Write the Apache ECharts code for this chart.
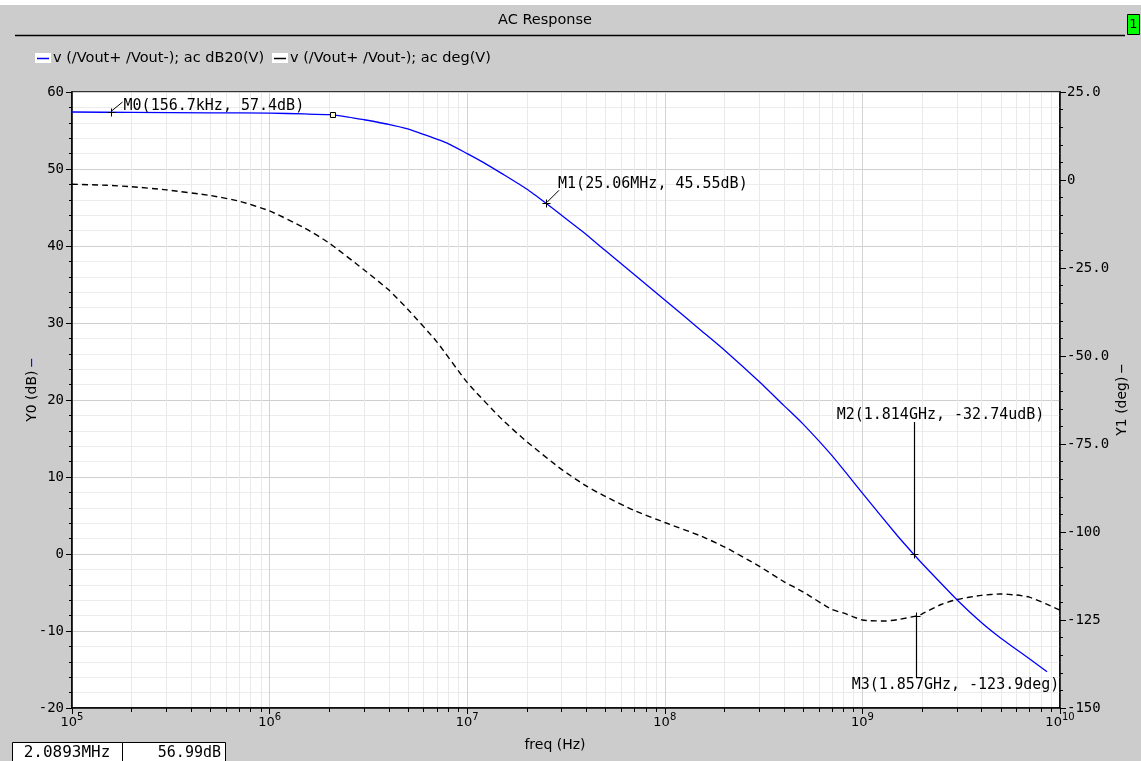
<!DOCTYPE html>
<html>
<head>
<meta charset="utf-8">
<title>AC Response</title>
<script src="https://cdn.jsdelivr.net/npm/echarts@6.0.0/dist/echarts.min.js"></script>
<style>
html,body{margin:0;padding:0;background:#cccccc;}
#chart{width:1141px;height:761px;}
</style>
</head>
<body>
<div id="chart"></div>
<script>
// ---------------- data ----------------
const freqMag = [1e5, 2e5, 5e5, 1e6, 1.5e6, 2e6, 2.5e6, 3e6, 4e6, 5e6, 6e6, 8e6, 1e7, 1.2e7, 1.5e7, 2e7, 2.506e7, 3e7, 4e7, 5e7, 7e7,
                 1e8, 1.5e8, 2e8, 3e8, 4e8, 5e8, 7e8, 1e9, 1.5e9, 1.814e9, 2e9, 3e9, 4e9, 5e9, 7e9, 8.6e9];
const magDB   = [57.4, 57.35, 57.3, 57.25, 57.15, 57.05, 56.75, 56.4, 55.8, 55.2, 54.5, 53.3, 52.0, 50.9, 49.4, 47.4, 45.55, 44.0, 41.5, 39.4, 36.3,
                 33.0, 29.2, 26.5, 22.4, 19.3, 16.9, 12.8, 7.9, 2.4, 0.0, -1.2, -5.9, -8.9, -10.9, -13.6, -15.3];

const freqPhase = [1e5, 1.5e5, 2e5, 3e5, 5e5, 7e5, 1e6, 1.5e6, 2e6, 3e6, 4e6, 5e6, 7e6, 1e7, 1.5e7, 2e7, 3e7, 4e7, 5e7, 7e7,
                   1e8, 1.5e8, 2e8, 3e8, 4e8, 5e8, 7e8, 8e8, 9e8, 1e9, 1.1e9, 1.3e9, 1.5e9, 1.857e9, 2e9, 2.5e9, 3e9, 4e9, 5e9, 6e9, 7e9, 8.5e9, 1e10];
const phaseDeg  = [-1.2, -1.5, -1.9, -2.8, -4.4, -6.0, -8.8, -13.6, -17.9, -25.5, -31.2, -36.7, -45.9, -57.5, -68.0, -74.3, -82.2, -86.9, -89.9, -93.9,
                   -97.3, -101.0, -104.2, -109.7, -114.1, -117.0, -122.0, -123.0, -124.1, -125.0, -125.2, -125.3, -124.9, -123.9, -123.3, -120.6, -119.2, -118.0, -117.6, -117.9, -118.5, -120.4, -122.2];

const seriesNames = ['v (/Vout+ /Vout-); ac dB20(V)', 'v (/Vout+ /Vout-); ac deg(V)'];

const markerFreq  = [156.7e3, 25.06e6, 1.814e9, 1.857e9];
const markerValue = [57.4, 45.55, 0.0, -123.9];
const markerAxis  = [0, 0, 0, 1];
const markerText  = ['M0(156.7kHz, 57.4dB)', 'M1(25.06MHz, 45.55dB)', 'M2(1.814GHz, -32.74udB)', 'M3(1.857GHz, -123.9deg)'];

const cursorFreq = 2.0893e6;
const cursorValue = 56.99;
const cursorText = ['2.0893MHz', '56.99dB'];

const titleText = 'AC Response';
const xName = 'freq (Hz)';
const y0Name = 'Y0 (dB)';
const y1Name = 'Y1 (deg)';
// -----------------------------------------------------------------

const SANS = 'DejaVu Sans';
const MONO = 'DejaVu Sans Mono';

const chart = echarts.init(document.getElementById('chart'), null, {renderer: 'canvas'});

const option = {
  backgroundColor: '#cccccc',
  animation: false,
  grid: {
    left: 72, right: 81, top: 92, bottom: 53,
    show: true, backgroundColor: '#ffffff', borderColor: '#000000', borderWidth: 1.5
  },
  xAxis: {
    type: 'log', logBase: 10, min: 1e5, max: 1e10, splitNumber: 5,
    name: xName, nameLocation: 'middle', nameGap: 30, nameMoveOverlap: false,
    nameTextStyle: {fontFamily: SANS, fontSize: 14, color: '#000', padding: [0, 22, 0, 0]},
    axisLine: {show: true, onZero: false, lineStyle: {color: '#000', width: 1.5}},
    axisTick: {show: true, inside: false, length: 6, lineStyle: {color: '#000', width: 1}},
    minorTick: {show: false},
    splitLine: {show: true, lineStyle: {color: '#d3d3d3', width: 1}},
    axisLabel: {
      margin: 4, color: '#000',
      formatter: v => '{b|10}{s|' + Math.round(Math.log10(v)) + '}',
      rich: {
        b: {fontFamily: SANS, fontSize: 13, color: '#000'},
        s: {fontFamily: SANS, fontSize: 10, color: '#000', padding: [0, 0, 12, 0]}
      }
    }
  },
  yAxis: [
    {
      type: 'value', position: 'left', min: -20, max: 60, interval: 10,
      name: '{t|' + y0Name + '} {bar|—}', nameLocation: 'middle', nameGap: 33, nameRotate: 90, nameMoveOverlap: false,
      nameTextStyle: {
        padding: [0, 0, 0, 20],
        rich: {
          t: {fontFamily: SANS, fontSize: 14, color: '#000'},
          bar: {fontFamily: SANS, fontSize: 9, fontWeight: 'bold', color: '#0000ff'}
        }
      },
      axisLine: {show: true, onZero: false, lineStyle: {color: '#000', width: 1.5}},
      axisTick: {show: true, inside: false, length: 6, lineStyle: {color: '#000'}},
      minorTick: {show: true, splitNumber: 5, length: 3, lineStyle: {color: '#000'}},
      splitLine: {show: true, lineStyle: {color: '#cfcfcf', width: 1}},
      minorSplitLine: {show: true, lineStyle: {color: '#ececec', width: 1}},
      axisLabel: {margin: 8, fontFamily: MONO, fontSize: 14, color: '#000'}
    },
    {
      type: 'value', position: 'right', min: -150, max: 25, interval: 25,
      name: '{t|' + y1Name + '} {bar|—}', nameLocation: 'middle', nameGap: 55, nameRotate: 90, nameMoveOverlap: false,
      nameTextStyle: {
        rich: {
          t: {fontFamily: SANS, fontSize: 14, color: '#000'},
          bar: {fontFamily: SANS, fontSize: 9, fontWeight: 'bold', color: '#000'}
        }
      },
      axisLine: {show: true, onZero: false, lineStyle: {color: '#000', width: 1.5}},
      axisTick: {show: true, inside: false, length: 6, lineStyle: {color: '#000'}},
      minorTick: {show: true, splitNumber: 5, length: 3, lineStyle: {color: '#000'}},
      splitLine: {show: false},
      minorSplitLine: {show: false},
      axisLabel: {
        margin: 7, fontFamily: MONO, fontSize: 14, color: '#000',
        formatter: v => v === 0 ? '0' : (Math.abs(v) >= 100 ? String(v) : v.toFixed(1))
      }
    }
  ],
  series: [
    {
      name: seriesNames[0], type: 'line', xAxisIndex: 0, yAxisIndex: 0,
      data: freqMag.map((f, i) => [f, magDB[i]]),
      showSymbol: false, smooth: 0.2, z: 3,
      lineStyle: {color: '#0000ff', width: 1.3}, itemStyle: {color: '#0000ff'}
    },
    {
      name: seriesNames[1], type: 'line', xAxisIndex: 0, yAxisIndex: 1,
      data: freqPhase.map((f, i) => [f, phaseDeg[i]]),
      showSymbol: false, smooth: 0.2, z: 3,
      lineStyle: {color: '#000000', width: 1.4, type: [6, 4]}, itemStyle: {color: '#000'}
    }
  ]
};
chart.setOption(option);

function txt(x, y, text, font, align, valign, extra) {
  return Object.assign({
    type: 'text', silent: true, z: 20,
    style: {x: x, y: y, text: text, font: font, fill: '#000',
            align: align, verticalAlign: valign, textAlign: align, textVerticalAlign: valign}
  }, extra || {});
}
function seg(x1, y1, x2, y2, stroke, w, z) {
  return {type: 'line', silent: true, z: z == null ? 20 : z,
          shape: {x1: x1, y1: y1, x2: x2, y2: y2}, style: {stroke: stroke, lineWidth: w == null ? 1 : w}};
}

function buildOverlay() {
  const P = (f, v, yi) => chart.convertToPixel({xAxisIndex: 0, yAxisIndex: yi}, [f, v]);
  const els = [];
  const yTop = P(1e5, 60, 0)[1];
  const yBot = P(1e5, -20, 0)[1];

  // minor vertical grid lines + minor x ticks at 2..9 of each decade
  for (let d = 5; d < 10; d++) {
    for (let m = 2; m <= 9; m++) {
      const x = Math.round(P(m * Math.pow(10, d), 0, 0)[0]) + 0.5;
      els.push(seg(x, yTop + 1, x, yBot - 1, '#e9e9e9', 1, 1));
      els.push(seg(x, yBot, x, yBot + 4, '#000', 1, 5));
    }
  }

  // title bar
  els.push({type: 'rect', silent: true, z: 0, shape: {x: 0, y: 0, width: 1141, height: 5}, style: {fill: '#ffffff'}});
  els.push(txt(545, 20, titleText, '14.5px "' + SANS + '"', 'center', 'middle'));
  els.push(seg(15, 35.5, 1125, 35.5, '#000', 1.5));
  els.push({type: 'rect', silent: true, z: 20, shape: {x: 1127.5, y: 14.5, width: 12, height: 20},
            style: {fill: '#00ff00', stroke: '#000', lineWidth: 1}});
  els.push(txt(1133.5, 25, '1', '13px "' + SANS + '"', 'center', 'middle'));

  // legend
  const ly = 58;
  const legendX = [35, 272];
  const legendColor = ['#0000ff', '#000000'];
  for (let i = 0; i < 2; i++) {
    els.push({type: 'rect', silent: true, z: 20, shape: {x: legendX[i], y: ly - 5, width: 16, height: 10}, style: {fill: '#ffffff'}});
    els.push(seg(legendX[i] + 2, ly + 0.5, legendX[i] + 14, ly + 0.5, legendColor[i], 1.5));
    els.push(txt(legendX[i] + 18, ly, seriesNames[i], '14.5px "' + SANS + '"', 'left', 'middle'));
  }

  // markers
  const mfont = '15px "' + MONO + '"';
  const pts = markerFreq.map((f, i) => P(f, markerValue[i], markerAxis[i]));
  pts.forEach((p) => {
    const x = Math.round(p[0]) + 0.5, y = Math.round(p[1]) + 0.5;
    els.push(seg(x - 4, y, x + 4, y, '#000', 1));
    els.push(seg(x, y - 4, x, y + 4, '#000', 1));
  });
  // M0
  {
    const p = pts[0];
    els.push(seg(p[0] + 1, p[1] - 1, p[0] + 12, p[1] - 10, '#000', 1));
    els.push(txt(p[0] + 13, p[1] - 6, markerText[0], mfont, 'left', 'middle'));
  }
  // M1
  {
    const p = pts[1];
    els.push(seg(p[0] + 1, p[1] - 1, p[0] + 13, p[1] - 13, '#000', 1));
    els.push(txt(p[0] + 12, p[1] - 19, markerText[1], mfont, 'left', 'middle'));
  }
  // M2
  {
    const p = pts[2];
    const x = Math.round(p[0]) + 0.5;
    els.push(seg(x, p[1], x, p[1] - 132, '#000', 1.2));
    els.push(txt(p[0] + 27, p[1] - 139, markerText[2], mfont, 'center', 'middle'));
  }
  // M3
  {
    const p = pts[3];
    const x = Math.round(p[0]) + 0.5;
    els.push(seg(x, p[1], x, p[1] + 61, '#000', 1.2));
    els.push(txt(p[0] + 40, p[1] + 69, markerText[3], mfont, 'center', 'middle'));
  }
  // cursor square
  {
    const p = P(cursorFreq, cursorValue, 0);
    els.push({type: 'rect', silent: true, z: 20,
              shape: {x: Math.round(p[0]) - 2.5, y: Math.round(p[1]) - 2.5, width: 5, height: 5},
              style: {fill: '#ffffcc', stroke: '#000', lineWidth: 1}});
  }

  // cursor readout boxes
  els.push({type: 'rect', silent: true, z: 20, shape: {x: 12.5, y: 742.5, width: 110, height: 22},
            style: {fill: '#ffffff', stroke: '#000', lineWidth: 1}});
  els.push({type: 'rect', silent: true, z: 20, shape: {x: 122.5, y: 742.5, width: 103, height: 22},
            style: {fill: '#ffffff', stroke: '#000', lineWidth: 1}});
  els.push(txt(67, 753, cursorText[0], '16px "' + MONO + '"', 'center', 'middle'));
  els.push(txt(221, 753, cursorText[1], '15px "' + MONO + '"', 'right', 'middle'));

  return els;
}

chart.setOption({graphic: {elements: buildOverlay()}});
</script>
</body>
</html>
